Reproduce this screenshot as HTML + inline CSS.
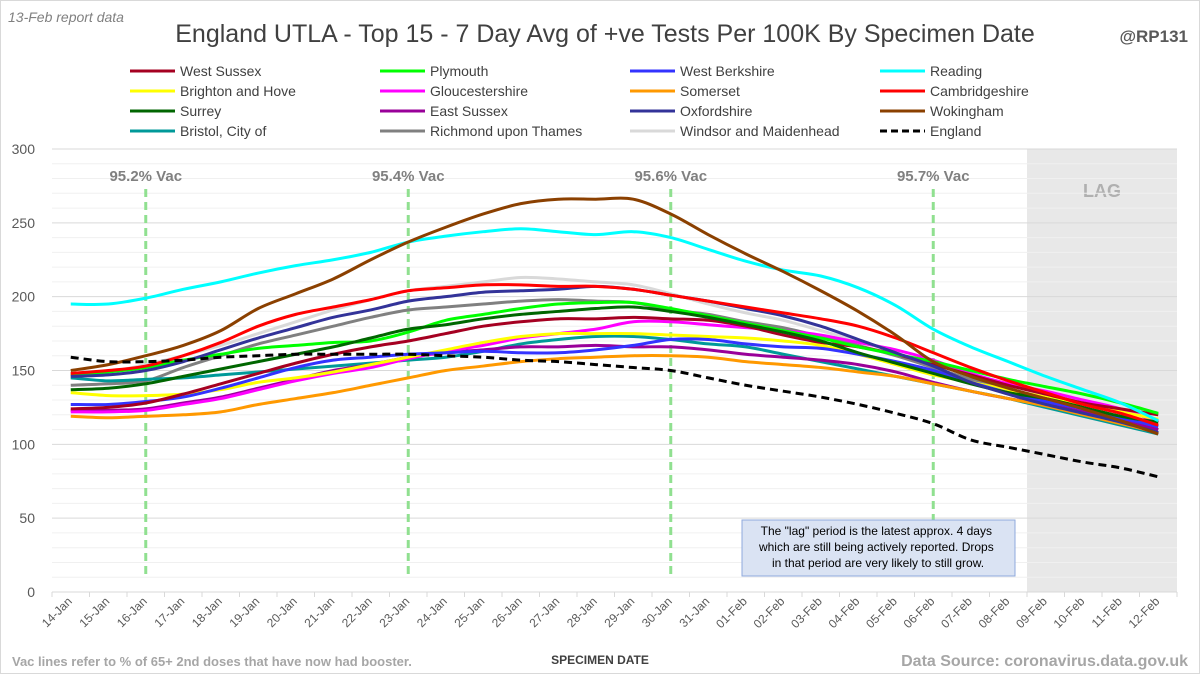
<!DOCTYPE html>
<html><head><meta charset="utf-8">
<style>
html,body{margin:0;padding:0;background:#fff}
svg{display:block;font-family:"Liberation Sans",sans-serif}
</style></head>
<body>
<svg id="chart" width="1200" height="674" viewBox="0 0 1200 674">
<rect x="0.5" y="0.5" width="1199" height="673" fill="#fff" stroke="#d9d9d9"/>
<text x="8" y="22" font-size="14" fill="#808080" font-style="italic">13-Feb report data</text>
<text x="605" y="42" font-size="25" fill="#404040" text-anchor="middle">England UTLA - Top 15 - 7 Day Avg of +ve Tests Per 100K By Specimen Date</text>
<text x="1188" y="42" font-size="17" fill="#595959" font-weight="bold" text-anchor="end">@RP131</text>
<rect x="1027" y="149" width="150" height="443" fill="#e8e8e8"/>
<text x="1102" y="197" font-size="18" fill="#b0b0b0" font-weight="bold" text-anchor="middle">LAG</text>
<g id="grid"></g>
<g id="vac"></g>
<g id="series"></g>
<g id="legend"></g>
<g id="xaxis"></g>
<rect x="742" y="520" width="273" height="56" fill="#dae3f3" stroke="#8faadc"/>
<text font-size="12" fill="#000" text-anchor="middle">
<tspan x="878" y="535">The "lag" period is the latest approx. 4 days</tspan>
<tspan x="878" y="551">which are still being actively reported. Drops</tspan>
<tspan x="878" y="567">in that period are very likely to still grow.</tspan></text>
<text x="600" y="664" font-size="12" font-weight="bold" fill="#404040" text-anchor="middle">SPECIMEN DATE</text>
<text x="12" y="666" font-size="13" font-weight="bold" fill="#a6a6a6">Vac lines refer to % of 65+ 2nd doses that have now had booster.</text>
<text x="1188" y="666" font-size="16" font-weight="bold" fill="#a6a6a6" text-anchor="end">Data Source: coronavirus.data.gov.uk</text>
</svg>
<script>
const categories=["14-Jan","15-Jan","16-Jan","17-Jan","18-Jan","19-Jan","20-Jan","21-Jan","22-Jan","23-Jan","24-Jan","25-Jan","26-Jan","27-Jan","28-Jan","29-Jan","30-Jan","31-Jan","01-Feb","02-Feb","03-Feb","04-Feb","05-Feb","06-Feb","07-Feb","08-Feb","09-Feb","10-Feb","11-Feb","12-Feb"];
const yTicks=[0,50,100,150,200,250,300];
const seriesNames=["West Sussex","Plymouth","West Berkshire","Reading","Brighton and Hove","Gloucestershire","Somerset","Cambridgeshire","Surrey","East Sussex","Oxfordshire","Wokingham","Bristol, City of","Richmond upon Thames","Windsor and Maidenhead","England"];
const seriesColors=["#a50021","#00ff00","#3333ff","#00ffff","#ffff00","#ff00ff","#ff9900","#ff0000","#006600","#990099","#333399","#8b4000","#009999","#808080","#d9d9d9","#000000"];
const westSussex=[124,125,128,134,141,148,155,161,166,170,175,180,183,185,185,186,185,184,180,174,169,166,161,154,147,140,134,128,124,120];
const plymouth=[147,149,152,157,161,165,167,169,170,176,184,188,192,195,196,196,192,187,182,177,172,166,161,156,150,144,139,134,128,121];
const westBerkshire=[127,127,129,132,138,145,152,157,159,161,162,163,162,162,164,167,171,171,168,166,165,161,156,150,142,135,129,124,118,112];
const reading=[195,195,199,205,210,216,221,225,230,237,241,244,246,244,242,244,240,232,224,218,214,206,194,178,166,156,146,137,128,116];
const brighton=[135,133,133,134,137,142,145,149,154,159,164,169,173,175,175,175,174,173,172,170,167,161,154,147,142,137,132,127,122,117];
const gloucestershire=[122,122,123,127,131,137,143,148,152,158,163,167,172,175,178,183,183,181,179,177,174,169,164,157,148,141,136,130,124,115];
const somerset=[119,118,119,120,122,127,131,135,140,145,150,153,156,158,159,160,160,159,156,154,152,149,146,141,136,131,126,120,114,108];
const cambridgeshire=[148,150,153,160,169,180,188,193,198,204,206,208,208,207,207,205,201,197,193,189,185,180,172,162,152,143,135,127,121,113];
const surrey=[137,138,141,146,151,156,161,166,172,178,181,185,188,190,192,193,190,186,181,176,170,162,155,148,141,135,131,125,119,115];
const eastSussex=[123,123,124,128,132,138,144,150,154,159,162,164,166,166,167,166,166,164,161,159,157,154,149,142,136,131,127,122,116,110];
const oxfordshire=[146,147,150,156,164,172,179,186,191,197,200,203,204,205,207,205,201,197,192,187,180,171,162,153,142,134,127,121,115,108];
const wokingham=[150,154,160,167,177,192,202,212,225,237,247,256,263,266,266,266,256,242,229,217,204,190,174,156,146,138,131,124,116,107];
const bristol=[145,143,144,145,147,149,151,153,155,157,159,163,168,171,173,173,171,168,166,161,156,151,146,141,136,131,125,119,113,107];
const richmond=[140,141,143,152,160,168,174,180,186,191,193,195,197,198,197,196,191,188,183,179,173,167,160,152,144,136,130,124,117,110];
const windsor=[147,149,154,160,167,175,183,191,198,204,207,210,213,212,210,208,202,195,189,184,177,170,162,152,144,136,129,122,115,108];
const england=[159,156,156,157,159,160,161,161,161,161,160,159,157,156,154,152,150,145,140,136,132,127,121,114,103,98,93,88,84,78];
const vacLabels=["95.2% Vac","95.4% Vac","95.6% Vac","95.7% Vac"];
const vacDates=["16-Jan","23-Jan","30-Jan","06-Feb"];
const allSeries=[westSussex,plymouth,westBerkshire,reading,brighton,gloucestershire,somerset,cambridgeshire,surrey,eastSussex,oxfordshire,wokingham,bristol,richmond,windsor,england];

const NS="http://www.w3.org/2000/svg";
const L=52,R=1177,T=149,B=592,YMAX=300;
const bw=(R-L)/categories.length;
function xs(i){return L+bw*(i+0.5);}
function ys(v){return B-(v/YMAX)*(B-T);}
function mk(tag,attrs,parent){const e=document.createElementNS(NS,tag);for(const k in attrs)e.setAttribute(k,attrs[k]);parent.appendChild(e);return e;}

const grid=document.getElementById('grid');
for(let v=10;v<=YMAX;v+=10){
  if(v%50===0)continue;
  const g=mk('line',{x1:L,x2:R,y1:ys(v),y2:ys(v),stroke:'#f0f0f0','stroke-width':1},grid);
  
  
}
yTicks.forEach(v=>{
  const g=mk('line',{x1:L,x2:R,y1:ys(v),y2:ys(v),stroke:'#d9d9d9','stroke-width':1},grid);
  
  
  const t=mk('text',{x:35,y:ys(v)+5,'font-size':14,fill:'#595959','text-anchor':'end'},grid);
  t.textContent=v;
  
  
});

const xa=document.getElementById('xaxis');
for(let i=0;i<=categories.length;i++){
  const tk=mk('line',{x1:L+bw*i,x2:L+bw*i,y1:B,y2:B+5,stroke:'#d9d9d9'},xa);
  
  
}
categories.forEach((c,i)=>{
  const x=xs(i)+2,y=B+10;
  const t=mk('text',{x:x,y:y,'font-size':12,fill:'#595959','text-anchor':'end',transform:`rotate(-45 ${x} ${y})`},xa);
  t.textContent=c;
  
  
});

const vac=document.getElementById('vac');
vacDates.forEach((d,k)=>{
  const x=xs(categories.indexOf(d));
  const l=mk('line',{x1:x,x2:x,y1:189,y2:578,stroke:'#90e090','stroke-width':3,'stroke-dasharray':'8 5'},vac);
  
  
  const t=mk('text',{x:x,y:181,'font-size':15,'font-weight':'bold',fill:'#808080','text-anchor':'middle'},vac);
  t.textContent=vacLabels[k];
  
  
});

function smoothPath(vals){
  const p=vals.map((v,i)=>[xs(i),ys(v)]);
  let d=`M${p[0][0]},${p[0][1]}`;
  for(let i=0;i<p.length-1;i++){
    const p0=p[i-1]||p[i],p1=p[i],p2=p[i+1],p3=p[i+2]||p2;
    const c1=[p1[0]+(p2[0]-p0[0])/6,p1[1]+(p2[1]-p0[1])/6];
    const c2=[p2[0]-(p3[0]-p1[0])/6,p2[1]-(p3[1]-p1[1])/6];
    d+=` C${c1[0]},${c1[1]} ${c2[0]},${c2[1]} ${p2[0]},${p2[1]}`;
  }
  return d;
}
const sg=document.getElementById('series');
const order=[14,13,12,9,6,5,4,2,0,1,8,10,7,3,11,15];
order.forEach(k=>{
  const attrs={d:smoothPath(allSeries[k]),fill:'none',stroke:seriesColors[k],'stroke-width':3,'stroke-linejoin':'round'};
  if(k===15)attrs['stroke-dasharray']='8 5';
  const p=mk('path',attrs,sg);
  
  
});

const lg=document.getElementById('legend');
seriesNames.forEach((n,k)=>{
  const col=k%4,row=Math.floor(k/4);
  const x=130+col*250,y=71+row*20;
  const g=mk('g',{},lg);
  
  
  const a={x1:x,x2:x+45,y1:y,y2:y,stroke:seriesColors[k],'stroke-width':3};
  if(k===15)a['stroke-dasharray']='7 4';
  mk('line',a,g);
  const t=mk('text',{x:x+50,y:y+5,'font-size':14,fill:'#404040'},g);
  t.textContent=n;
});
</script>
</body></html>
